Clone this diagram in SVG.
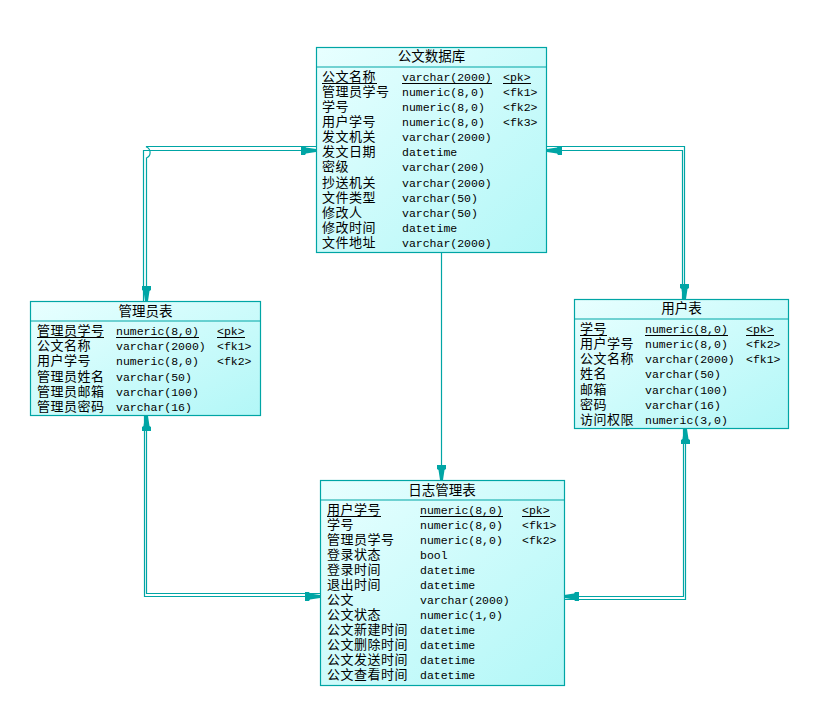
<svg xmlns="http://www.w3.org/2000/svg" width="817" height="706" viewBox="0 0 817 706">
<defs>
<linearGradient id="g" x1="0" y1="0" x2="1" y2="1">
<stop offset="0" stop-color="#e8ffff"/>
<stop offset="1" stop-color="#b2f7f7"/>
</linearGradient>
<marker id="ar" viewBox="-16 -6 17 12" refX="0" refY="0" markerWidth="17" markerHeight="12" markerUnits="userSpaceOnUse" orient="auto">
<path d="M0,-1.5 L-10,-3 L-11,-4.5 L-15,-4.5 L-15,4.5 L-11,4.5 L-10,3 L0,1.5 Z" fill="#00a5a5"/>
</marker>
<style>
.box{fill:url(#g);stroke:#00a5a5;stroke-width:1.2}
.hd{stroke:#00a5a5;stroke-width:1.2}
.ti{font-family:"Liberation Sans","Noto Sans CJK SC","Noto Sans CJK JP",sans-serif;font-size:13.5px;text-anchor:middle;fill:#000}
.n{font-family:"Liberation Sans","Noto Sans CJK SC","Noto Sans CJK JP",sans-serif;font-size:13px;letter-spacing:0.5px;fill:#000}
.t{font-family:"Liberation Mono","DejaVu Sans Mono",monospace;font-size:11.5px;fill:#000}
.ul{stroke:#000;stroke-width:1}
.c{fill:none;stroke:#00a5a5;stroke-width:1.2;marker-end:url(#ar)}
</style>
</defs>
<rect width="817" height="706" fill="#fff"/>

<g id="gongwen">
<rect class="box" x="316.5" y="47.5" width="230" height="205"/>
<line class="hd" x1="316.5" y1="67" x2="546.5" y2="67"/>
<text class="ti" x="431.5" y="61">公文数据库</text>
<g class="n">
<text x="322" y="81">公文名称</text>
<text x="322" y="96">管理员学号</text>
<text x="322" y="111">学号</text>
<text x="322" y="126">用户学号</text>
<text x="322" y="141">发文机关</text>
<text x="322" y="156">发文日期</text>
<text x="322" y="171">密级</text>
<text x="322" y="187">抄送机关</text>
<text x="322" y="202">文件类型</text>
<text x="322" y="217">修改人</text>
<text x="322" y="232">修改时间</text>
<text x="322" y="247">文件地址</text>
</g>
<g class="t">
<text x="402" y="81">varchar(2000)</text>
<text x="402" y="96">numeric(8,0)</text>
<text x="402" y="111">numeric(8,0)</text>
<text x="402" y="126">numeric(8,0)</text>
<text x="402" y="141">varchar(2000)</text>
<text x="402" y="156">datetime</text>
<text x="402" y="171">varchar(200)</text>
<text x="402" y="187">varchar(2000)</text>
<text x="402" y="202">varchar(50)</text>
<text x="402" y="217">varchar(50)</text>
<text x="402" y="232">datetime</text>
<text x="402" y="247">varchar(2000)</text>
<text x="503" y="81">&lt;pk&gt;</text>
<text x="503" y="96">&lt;fk1&gt;</text>
<text x="503" y="111">&lt;fk2&gt;</text>
<text x="503" y="126">&lt;fk3&gt;</text>
</g>
<line class="ul" x1="322" y1="83.5" x2="377" y2="83.5"/>
<line class="ul" x1="402" y1="83.5" x2="492" y2="83.5"/>
<line class="ul" x1="503" y1="83.5" x2="531" y2="83.5"/>
</g>

<g id="guanliyuan">
<rect class="box" x="30.5" y="301.5" width="230" height="114"/>
<line class="hd" x1="30.5" y1="321" x2="260.5" y2="321"/>
<text class="ti" x="145.5" y="316">管理员表</text>
<g class="n">
<text x="37" y="335">管理员学号</text>
<text x="37" y="350">公文名称</text>
<text x="37" y="365">用户学号</text>
<text x="37" y="381">管理员姓名</text>
<text x="37" y="396">管理员邮箱</text>
<text x="37" y="411">管理员密码</text>
</g>
<g class="t">
<text x="116" y="335">numeric(8,0)</text>
<text x="116" y="350">varchar(2000)</text>
<text x="116" y="365">numeric(8,0)</text>
<text x="116" y="381">varchar(50)</text>
<text x="116" y="396">varchar(100)</text>
<text x="116" y="411">varchar(16)</text>
<text x="217" y="335">&lt;pk&gt;</text>
<text x="217" y="350">&lt;fk1&gt;</text>
<text x="217" y="365">&lt;fk2&gt;</text>
</g>
<line class="ul" x1="37" y1="337.5" x2="104" y2="337.5"/>
<line class="ul" x1="116" y1="337.5" x2="199" y2="337.5"/>
<line class="ul" x1="217" y1="337.5" x2="245" y2="337.5"/>
</g>

<g id="yonghu">
<rect class="box" x="574.5" y="299.5" width="214" height="129"/>
<line class="hd" x1="574.5" y1="319" x2="788.5" y2="319"/>
<text class="ti" x="681.5" y="313">用户表</text>
<g class="n">
<text x="580" y="333">学号</text>
<text x="580" y="348">用户学号</text>
<text x="580" y="363">公文名称</text>
<text x="580" y="378">姓名</text>
<text x="580" y="394">邮箱</text>
<text x="580" y="409">密码</text>
<text x="580" y="424">访问权限</text>
</g>
<g class="t">
<text x="645" y="333">numeric(8,0)</text>
<text x="645" y="348">numeric(8,0)</text>
<text x="645" y="363">varchar(2000)</text>
<text x="645" y="378">varchar(50)</text>
<text x="645" y="394">varchar(100)</text>
<text x="645" y="409">varchar(16)</text>
<text x="645" y="424">numeric(3,0)</text>
<text x="746" y="333">&lt;pk&gt;</text>
<text x="746" y="348">&lt;fk2&gt;</text>
<text x="746" y="363">&lt;fk1&gt;</text>
</g>
<line class="ul" x1="580" y1="335.5" x2="607" y2="335.5"/>
<line class="ul" x1="645" y1="335.5" x2="728" y2="335.5"/>
<line class="ul" x1="746" y1="335.5" x2="774" y2="335.5"/>
</g>

<g id="rizhi">
<rect class="box" x="320.5" y="480.5" width="244" height="205"/>
<line class="hd" x1="320.5" y1="500" x2="564.5" y2="500"/>
<text class="ti" x="442" y="495">日志管理表</text>
<g class="n">
<text x="327" y="514">用户学号</text>
<text x="327" y="529">学号</text>
<text x="327" y="544">管理员学号</text>
<text x="327" y="559">登录状态</text>
<text x="327" y="574">登录时间</text>
<text x="327" y="589">退出时间</text>
<text x="327" y="604">公文</text>
<text x="327" y="619">公文状态</text>
<text x="327" y="634">公文新建时间</text>
<text x="327" y="649">公文删除时间</text>
<text x="327" y="664">公文发送时间</text>
<text x="327" y="679">公文查看时间</text>
</g>
<g class="t">
<text x="420" y="514">numeric(8,0)</text>
<text x="420" y="529">numeric(8,0)</text>
<text x="420" y="544">numeric(8,0)</text>
<text x="420" y="559">bool</text>
<text x="420" y="574">datetime</text>
<text x="420" y="589">datetime</text>
<text x="420" y="604">varchar(2000)</text>
<text x="420" y="619">numeric(1,0)</text>
<text x="420" y="634">datetime</text>
<text x="420" y="649">datetime</text>
<text x="420" y="664">datetime</text>
<text x="420" y="679">datetime</text>
<text x="522" y="514">&lt;pk&gt;</text>
<text x="522" y="529">&lt;fk1&gt;</text>
<text x="522" y="544">&lt;fk2&gt;</text>
</g>
<line class="ul" x1="327" y1="516.5" x2="381" y2="516.5"/>
<line class="ul" x1="420" y1="516.5" x2="503" y2="516.5"/>
<line class="ul" x1="522" y1="516.5" x2="550" y2="516.5"/>
</g>

<g id="connectors">
<path class="c" d="M143.5,301 V150.5 H316"/>
<path class="c" d="M316,146.5 H146.5 V147 A6,6 0 0 1 146.5,158 V301"/>
<path class="c" d="M682.5,299 V150.5 H547"/>
<path class="c" d="M547,146.5 H684.5 V299"/>
<path class="c" d="M441.5,253 V480"/>
<path class="c" d="M144.5,416 V596.5 H320"/>
<path class="c" d="M320,593.5 H146.5 V416"/>
<path class="c" d="M564,599.5 H685.5 V429"/>
<path class="c" d="M683.5,429 V596.5 H564"/>
</g>
</svg>
